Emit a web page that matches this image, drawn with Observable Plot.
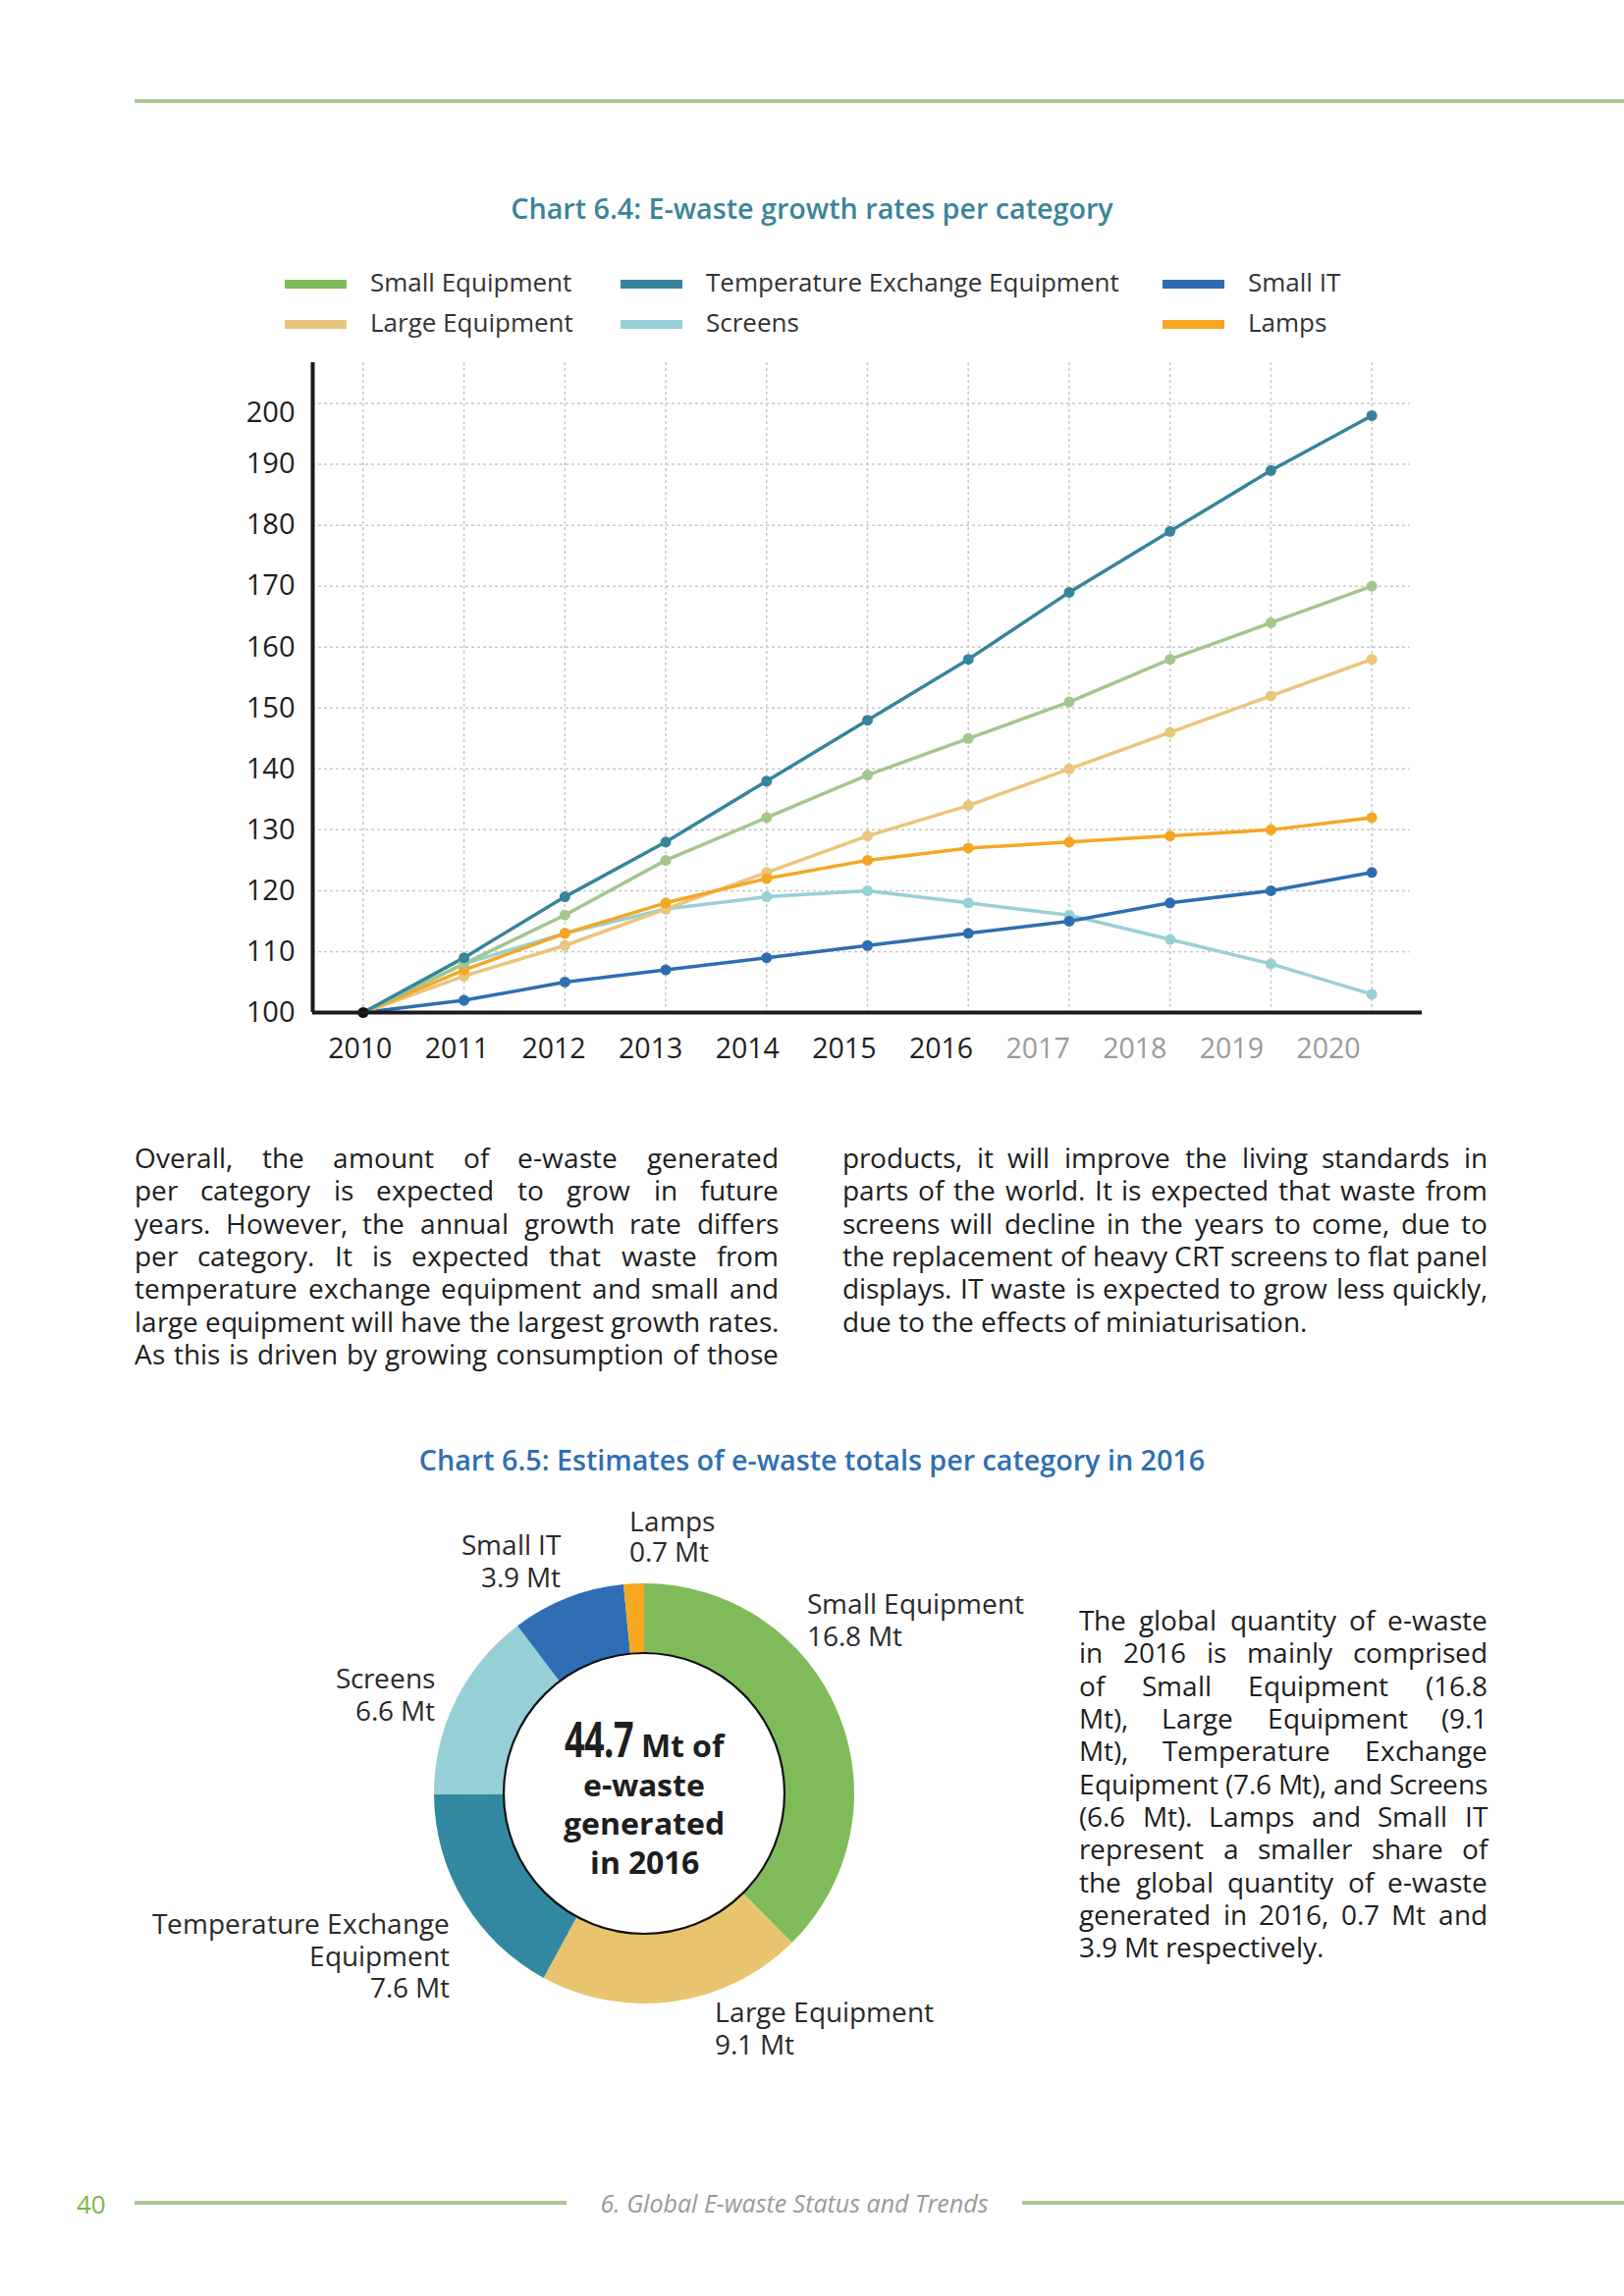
<!DOCTYPE html>
<html><head><meta charset="utf-8">
<script src="https://cdn.jsdelivr.net/npm/d3@7"></script>
<script src="https://cdn.jsdelivr.net/npm/@observablehq/plot@0.6"></script>
<style>
@font-face{font-family:"OST";src:local("Open Sans Regular"),local("OpenSans-Regular"),local("Open Sans");font-weight:400;font-style:normal;ascent-override:94.8%;descent-override:17.2%;line-gap-override:0%;}
@font-face{font-family:"OSTB";src:local("Open Sans Bold"),local("OpenSans-Bold");font-weight:700;font-style:normal;ascent-override:94.8%;descent-override:17.2%;line-gap-override:0%;}
body{margin:0;background:#fff;}
#page{position:relative;width:1654px;height:2339px;overflow:hidden;font-family:"Open Sans",sans-serif;color:#222;background:#fff;}
.abs{position:absolute;}
.rule{position:absolute;height:4px;background:#a8c995;}
.title{position:absolute;left:0;width:1654px;text-align:center;font-weight:600;font-size:28.7px;line-height:34px;}
.jl{display:flex;justify-content:space-between;white-space:nowrap;height:33.33px;}
.jl span{display:block;height:33.33px;overflow:visible;}
.txt{font-family:"OST","Open Sans",sans-serif;font-size:27.6px;line-height:33.33px;color:#1e1e1e;}
.lbl{position:absolute;font-family:"OST","Open Sans",sans-serif;font-size:27.5px;line-height:32.5px;color:#2a2a2a;white-space:nowrap;}
.leg{position:absolute;font-size:26px;line-height:34px;color:#333;white-space:nowrap;}
.sw{position:absolute;width:63px;height:9px;}
</style></head>
<body><div id="page"></div>
<script>
// ---------- data ----------
const years = [2010, 2011, 2012, 2013, 2014, 2015, 2016, 2017, 2018, 2019, 2020];
const smallEquipment = [100, 108, 116, 125, 132, 139, 145, 151, 158, 164, 170];
const largeEquipment = [100, 106, 111, 117, 123, 129, 134, 140, 146, 152, 158];
const temperatureExchange = [100, 109, 119, 128, 138, 148, 158, 169, 179, 189, 198];
const screens = [100, 108, 113, 117, 119, 120, 118, 116, 112, 108, 103];
const smallIT = [100, 102, 105, 107, 109, 111, 113, 115, 118, 120, 123];
const lamps = [100, 107, 113, 118, 122, 125, 127, 128, 129, 130, 132];
const yTicks = [100, 110, 120, 130, 140, 150, 160, 170, 180, 190, 200];

const seriesNames = ["Small Equipment", "Large Equipment", "Temperature Exchange Equipment", "Screens", "Small IT", "Lamps"];
const lineColors = ["#a3c68c", "#eac57a", "#36849b", "#97d0d5", "#2f6db2", "#f5a623"];
const legendColors = ["#80bb5a", "#e8c77d", "#36849b", "#97d0d5", "#2f6db2", "#f5a623"];

const donutCategories = ["Small Equipment", "Large Equipment", "Temperature Exchange Equipment", "Screens", "Small IT", "Lamps"];
const donutValues = [16.8, 9.1, 7.6, 6.6, 3.9, 0.7];
const donutColors = ["#80bb5a", "#e8c46f", "#3388a1", "#97cfd6", "#2f6eb5", "#f6a821"];
const donutTotal = 44.7;

// ---------- page helpers ----------
const page = document.getElementById("page");
function el(tag, cls, style, html) {
  const e = document.createElement(tag);
  if (cls) e.className = cls;
  if (style) e.setAttribute("style", style);
  if (html != null) e.innerHTML = html;
  page.appendChild(e);
  return e;
}
const jlines = [];
function justified(left, top, width, lines, lastLeft) {
  const box = el("div", "abs txt", `left:${left}px;top:${top}px;width:${width}px;`);
  lines.forEach((ln, i) => {
    const d = document.createElement("div");
    if (i === lines.length - 1 && lastLeft) {
      d.textContent = ln;
      d.style.whiteSpace = "nowrap";
    } else {
      d.className = "jl";
      ln.split(" ").forEach(w => { const s = document.createElement("span"); s.textContent = w; d.appendChild(s); });
      jlines.push({d, width, text: ln});
    }
    box.appendChild(d);
  });
}
function fitLines() {
  jlines.forEach(({d, width, text}) => {
    d.style.letterSpacing = "0px";
    const spans = [...d.children];
    const words = spans.reduce((s, e) => s + e.getBoundingClientRect().width, 0);
    const minGap = 27.6 * 0.26 * (spans.length - 1);
    const excess = words + minGap - width;
    if (excess > 0) d.style.letterSpacing = (-excess / text.replace(/ /g, "").length) + "px";
  });
}

// rules + titles
el("div", "rule", "left:137px;top:101px;width:1517px;");
el("div", "title", "top:195px;color:#3a8597;", "Chart 6.4: E-waste growth rates per category");

// legend
const legendPos = [[290, 289], [290, 330], [632, 289], [632, 330], [1184, 289], [1184, 330]];
seriesNames.forEach((n, i) => {
  const [x, y] = legendPos[i];
  el("div", "sw", `left:${x}px;top:${y - 4}px;background:${legendColors[i]};`);
  el("div", "leg", `left:${x + 87}px;top:${y - 19}px;`, n);
});

// ---------- line chart ----------
const seriesValues = [smallEquipment, largeEquipment, temperatureExchange, screens, smallIT, lamps];
const drawOrder = [3, 4, 1, 5, 0, 2];
const rows = [];
drawOrder.forEach(si => years.forEach((yr, j) => rows.push({year: yr, value: seriesValues[si][j], series: seriesNames[si]})));

const chart = Plot.plot({
  width: 1300, height: 760,
  marginLeft: 118, marginRight: 52, marginTop: 29, marginBottom: 69,
  x: {domain: [2009.5, 2020.5], axis: null},
  y: {domain: [100, 206.7], axis: null},
  color: {domain: seriesNames, range: lineColors},
  style: {fontFamily: "Open Sans", fontSize: "29px", color: "#222", background: "transparent"},
  marks: [
    Plot.ruleX(years, {x: d => d, stroke: "#c9c9c9", strokeWidth: 1.5, strokeDasharray: "3,3"}),
    Plot.ruleY(yTicks.filter(v => v > 100), {y: d => d, x1: 2009.5, x2: 2020.38, stroke: "#c9c9c9", strokeWidth: 1.5, strokeDasharray: "3,3"}),
    Plot.line(rows, {x: "year", y: "value", z: "series", stroke: "series", strokeWidth: 3.5}),
    Plot.dot(rows.filter(d => d.year > 2010), {x: "year", y: "value", fill: "series", r: 5.5}),
    Plot.dot([{year: 2010, value: 100}], {x: "year", y: "value", fill: "#111", r: 5.5}),
    Plot.ruleX([2009.5], {stroke: "#1a1a1a", strokeWidth: 4}),
    Plot.ruleY([100], {stroke: "#1a1a1a", strokeWidth: 4}),
    // y tick labels
    Plot.text(yTicks.filter(v => v < 200), {x: () => 2009.5, y: d => d, dx: -18, textAnchor: "end", text: d => String(d), fill: "#1e1e1e", fontSize: 29}),
    Plot.text(yTicks.filter(v => v >= 200), {x: () => 2009.5, y: d => d, dx: -18, dy: 10, textAnchor: "end", text: d => String(d), fill: "#1e1e1e", fontSize: 29}),
    // x tick labels
    Plot.text(years, {x: d => d - 0.04 * (d - 2010) - 0.03, y: () => 100, dy: 37, text: d => String(d),
      fill: d => d > 2016 ? "#9a9a9a" : "#1e1e1e", fontSize: 28.5})
  ]
});
chart.style.position = "absolute";
chart.style.left = "200px";
chart.style.top = "340px";
page.appendChild(chart);

// ---------- body text ----------
justified(137, 1163, 656, [
  "Overall, the amount of e-waste generated",
  "per category is expected to grow in future",
  "years. However, the annual growth rate differs",
  "per category. It is expected that waste from",
  "temperature exchange equipment and small and",
  "large equipment will have the largest growth rates.",
  "As this is driven by growing consumption of those"
], false);
justified(858, 1163, 657, [
  "products, it will improve the living standards in",
  "parts of the world. It is expected that waste from",
  "screens will decline in the years to come, due to",
  "the replacement of heavy CRT screens to flat panel",
  "displays. IT waste is expected to grow less quickly,",
  "due to the effects of miniaturisation."
], true);

el("div", "title", "top:1470px;color:#2f6fb0;", "Chart 6.5: Estimates of e-waste totals per category in 2016");

// ---------- donut ----------
const R = 214, r0 = 143;
const donut = Plot.plot({
  width: 500, height: 500, margin: 0,
  x: {axis: null}, y: {axis: null},
  style: {background: "transparent"},
  marks: [
    (index, scales, values, dims) => {
      const g = d3.create("svg:g").attr("transform", `translate(${dims.width / 2},${dims.height / 2})`);
      const pie = d3.pie().sort(null).value(d => d.v)(donutValues.map((v, i) => ({v, c: donutColors[i], n: donutCategories[i]})));
      const arc = d3.arc().innerRadius(r0 - 2).outerRadius(R);
      g.selectAll("path").data(pie).join("path").attr("d", arc).attr("fill", d => d.data.c);
      g.append("circle").attr("r", r0).attr("fill", "#fff").attr("stroke", "#111").attr("stroke-width", 2.2);
      return g.node();
    }
  ]
});
donut.style.position = "absolute";
donut.style.left = "406px";
donut.style.top = "1577px";
page.appendChild(donut);

// centre text
el("div", "abs", "left:506px;top:1752px;width:300px;text-align:center;font-family:'OSTB','Open Sans',sans-serif;font-weight:700;color:#1e1e1e;font-size:32px;line-height:39.5px;",
  `<span style="display:inline-block;font-size:50px;line-height:39.5px;transform:scaleX(0.72);transform-origin:100% 50%;margin-left:-28px;letter-spacing:-1px;">${donutTotal}</span> Mt of<br>e-waste<br>generated<br>in 2016`);

// donut labels
const fmt = v => `${v} Mt`;
el("div", "lbl", "left:641px;top:1534px;line-height:31px;", `Lamps<br>${fmt(donutValues[5])}`);
el("div", "lbl", "right:1083px;top:1557px;text-align:right;line-height:33px;", `Small IT<br>${fmt(donutValues[4])}`);
el("div", "lbl", "left:822px;top:1617px;line-height:33px;", `Small Equipment<br>${fmt(donutValues[0])}`);
el("div", "lbl", "right:1211px;top:1693px;text-align:right;line-height:33px;", `Screens<br>${fmt(donutValues[3])}`);
el("div", "lbl", "right:1196px;top:1944px;text-align:right;line-height:32.5px;", `Temperature Exchange<br>Equipment<br>${fmt(donutValues[2])}`);
el("div", "lbl", "left:728px;top:2033px;line-height:33px;", `Large Equipment<br>${fmt(donutValues[1])}`);

justified(1099, 1634, 416, [
  "The global quantity of e-waste",
  "in 2016 is mainly comprised",
  "of Small Equipment (16.8",
  "Mt), Large Equipment (9.1",
  "Mt), Temperature Exchange",
  "Equipment (7.6 Mt), and Screens",
  "(6.6 Mt). Lamps and Small IT",
  "represent a smaller share of",
  "the global quantity of e-waste",
  "generated in 2016, 0.7 Mt and",
  "3.9 Mt respectively."
], true);

// footer
el("div", "abs", "left:78px;top:2227px;font-size:26px;line-height:36px;color:#7ab648;", "40");
el("div", "rule", "left:137px;top:2242px;width:440px;");
el("div", "abs", "left:577px;width:464px;top:2228px;text-align:center;font-size:25px;line-height:32px;font-style:italic;color:#9a9a9a;", "6. Global E-waste Status and Trends");
el("div", "rule", "left:1041px;top:2242px;width:613px;");

fitLines();
if (document.fonts && document.fonts.ready) document.fonts.ready.then(fitLines);
</script>
</body></html>
